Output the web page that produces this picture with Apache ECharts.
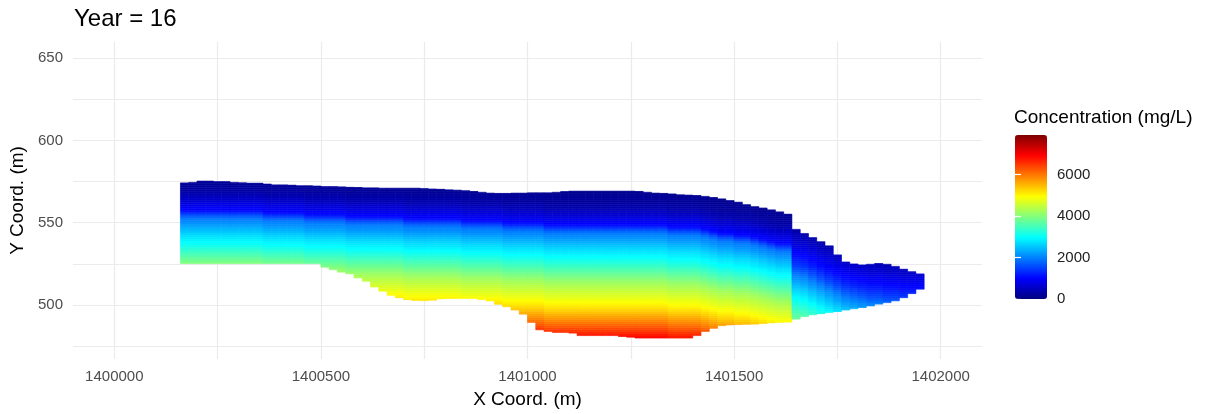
<!DOCTYPE html>
<html>
<head>
<meta charset="utf-8">
<title>Year = 16</title>
<script src="https://cdn.jsdelivr.net/npm/echarts@6/dist/echarts.min.js"></script>
<style>
  html, body { margin: 0; padding: 0; background: #fff; }
  #chart { width: 1220px; height: 414px; }
</style>
</head>
<body>
<div id="chart"></div>
<script>
const _ = null;

// column centres (m) across the plume, each column 20 m wide
const colX = [
  1400170, 1400190, 1400210, 1400230, 1400250, 1400270, 1400290, 1400310, 1400330, 1400350,
  1400370, 1400390, 1400410, 1400430, 1400450, 1400470, 1400490, 1400510, 1400530, 1400550,
  1400570, 1400590, 1400610, 1400630, 1400650, 1400670, 1400690, 1400710, 1400730, 1400750,
  1400770, 1400790, 1400810, 1400830, 1400850, 1400870, 1400890, 1400910, 1400930, 1400950,
  1400970, 1400990, 1401010, 1401030, 1401050, 1401070, 1401090, 1401110, 1401130, 1401150,
  1401170, 1401190, 1401210, 1401230, 1401250, 1401270, 1401290, 1401310, 1401330, 1401350,
  1401370, 1401390, 1401410, 1401430, 1401450, 1401470, 1401490, 1401510, 1401530, 1401550,
  1401570, 1401590, 1401610, 1401630, 1401650, 1401670, 1401690, 1401710, 1401730, 1401750,
  1401770, 1401790, 1401810, 1401830, 1401850, 1401870, 1401890, 1401910, 1401930, 1401950
];
// top and bottom of the plume in each column (m)
const colTop = [
  574.2, 574.5, 575.3, 575.3, 575.0, 575.0, 574.5, 574.3, 574.0, 574.0,
  573.5, 573.0, 573.0, 572.8, 572.5, 572.5, 572.3, 572.0, 572.0, 571.8,
  571.5, 571.3, 571.2, 571.2, 571.0, 571.0, 571.0, 571.0, 571.0, 570.8,
  570.5, 570.3, 570.0, 569.8, 569.5, 569.0, 568.5, 568.0, 567.8, 567.8,
  568.0, 568.0, 568.2, 568.2, 568.2, 568.5, 568.8, 569.2, 569.2, 569.2,
  569.2, 569.2, 569.2, 569.2, 569.2, 569.0, 568.5, 568.0, 567.8, 567.5,
  567.0, 566.8, 566.5, 566.0, 565.3, 564.5, 563.5, 562.5, 561.0, 559.8,
  558.8, 557.8, 556.6, 555.2, 546.0, 543.5, 541.0, 538.5, 536.0, 530.5,
  526.2, 525.0, 524.4, 524.8, 525.2, 524.8, 523.5, 521.8, 520.2, 518.8
];
const colBottom = [
  525.2, 525.2, 525.2, 525.2, 525.2, 525.2, 525.2, 525.2, 525.2, 525.2,
  525.2, 525.2, 525.2, 525.2, 525.2, 525.2, 525.2, 523.0, 521.5, 520.0,
  519.0, 516.5, 514.5, 511.0, 508.5, 506.0, 504.5, 503.3, 502.8, 502.7,
  503.0, 503.8, 504.0, 504.0, 504.0, 504.0, 503.5, 502.5, 500.5, 499.0,
  497.0, 494.5, 489.5, 485.0, 484.0, 483.5, 483.5, 483.0, 481.5, 481.5,
  481.5, 481.5, 481.5, 481.0, 480.5, 480.0, 480.0, 480.0, 480.0, 480.0,
  480.0, 480.0, 481.5, 484.0, 486.0, 487.5, 488.0, 488.2, 488.4, 488.5,
  488.8, 489.2, 489.5, 489.7, 491.5, 493.0, 494.1, 494.8, 495.5, 496.2,
  497.0, 497.8, 498.6, 499.5, 500.6, 501.5, 502.6, 504.5, 507.0, 509.7
];
// vertical displacement of the concentration layers in each column (m),
// measured against the reference profile of the same side of the step
const colOffset = [
  -8.75, -8.75, -8.75, -8.75, -8.75, -8.75, -8.75, -8.75, -8.75, -8.75,
  -7.5, -7.5, -7.5, -7.5, -7.5, -6.25, -6.25, -6.25, -6.25, -6.25,
  -5, -5, -5, -5, -5, -5, -5, -3.75, -3.75, -3.75,
  -3.75, -3.75, -3.75, -3.75, -2.5, -2.5, -2.5, -2.5, -2.5, -1.25,
  -1.25, -1.25, -1.25, -1.25, 0, 0, 0, 0, 0, 0,
  0, 0, 0, 0, 0, 0, 0, 0, 0, 1.25,
  1.25, 1.25, 1.25, 2.5, 3.75, 5, 5, 6.25, 6.25, 7.5,
  8.75, 10, 11.25, 11.25, 0, 1.25, 3.75, 6.25, 8.75, 11.25,
  13.75, 15, 16.25, 17.5, 17.5, 18.75, 18.75, 20, 20, 20
];
// columns from here eastwards lie past the step and use the east profile
const eastStart = 1401640;

// bottom of each 1.25 m row (m)
const rowBase = [
  477.5, 478.75, 480, 481.25, 482.5, 483.75, 485, 486.25, 487.5, 488.75,
  490, 491.25, 492.5, 493.75, 495, 496.25, 497.5, 498.75, 500, 501.25,
  502.5, 503.75, 505, 506.25, 507.5, 508.75, 510, 511.25, 512.5, 513.75,
  515, 516.25, 517.5, 518.75, 520, 521.25, 522.5, 523.75, 525, 526.25,
  527.5, 528.75, 530, 531.25, 532.5, 533.75, 535, 536.25, 537.5, 538.75,
  540, 541.25, 542.5, 543.75, 545, 546.25, 547.5, 548.75, 550, 551.25,
  552.5, 553.75, 555, 556.25, 557.5, 558.75, 560, 561.25, 562.5, 563.75,
  565, 566.25, 567.5, 568.75, 570, 571.25, 572.5, 573.75, 575, 576.25
];

// concentration (mg/L) per row, read at x = 1401250 (west of the step)
const profMain = [
  7050, 6950, 6850, 6740, 6610, 6490, 6360, 6240, 6110, 5990,
  5860, 5750, 5650, 5540, 5410, 5300, 5200, 5100, 5000, 4910,
  4840, 4760, 4690, 4610, 4540, 4460, 4390, 4310, 4240, 4150,
  4050, 3950, 3850, 3750, 3650, 3550, 3450, 3350, 3250, 3150,
  3050, 2960, 2890, 2810, 2740, 2650, 2550, 2450, 2350, 2250,
  2150, 2060, 2000, 1850, 1650, 1400, 1150, 1000, 900, 820,
  740, 660, 580, 500, 420, 360, 310, 270, 240, 210,
  190, 170, 150, 140, 130, 120, 110, 100, 100, 100
];
// concentration (mg/L) per row, read at x = 1401650 (east of the step)
const profEast = [
  _, _, _, _, _, _, _, _, _, 3900,
  3850, 3780, 3700, 3620, 3540, 3460, 3370, 3290, 3210, 3130,
  3050, 2970, 2890, 2800, 2710, 2620, 2540, 2450, 2350, 2250,
  2170, 2080, 1990, 1880, 1760, 1640, 1540, 1450, 1350, 1260,
  1190, 1110, 1040, 970, 910, 850, 780, 720, 650, 590,
  530, 480, 420, 380, 340, 300, 270, 240, 220, _,
  _, _, _, _, _, _, _, _, _, _,
  _, _, _, _, _, _, _, _, _, _
];

const xLabels = [1400000, 1400500, 1401000, 1401500, 1402000];
const xGrid = [1400000, 1400250, 1400500, 1400750, 1401000, 1401250, 1401500, 1401750, 1402000];
const yLabels = [500, 550, 600, 650];
const yGrid = [475, 500, 525, 550, 575, 600, 625, 650];
const barTicks = [0, 2000, 4000, 6000];

const colW = 20;
const rowH = 1.25;

// one cell per column and row, clipped to the plume outline
const cells = [];
colX.forEach(function (x, c) {
  const prof = x >= eastStart ? profEast : profMain;
  const shift = Math.round(colOffset[c] / rowH);
  rowBase.forEach(function (y, r) {
    const y0 = Math.max(y, colBottom[c]);
    const y1 = Math.min(y + rowH, colTop[c]);
    if (y1 <= y0) return;
    const v = prof[r + shift];
    if (v == null) return;
    cells.push([x - colW / 2, x + colW / 2, y0, y1, v]);
  });
});

const font = 'Liberation Sans, Arial, Helvetica, sans-serif';
const chart = echarts.init(document.getElementById('chart'));

chart.setOption({
  animation: false,
  textStyle: { fontFamily: font },
  title: [
    {
      text: 'Year = 16',
      left: 74, top: 7, padding: 0,
      textStyle: { fontFamily: font, fontSize: 24, fontWeight: 'normal', color: '#000' }
    },
    {
      text: 'Concentration (mg/L)',
      left: 1014, top: 108, padding: 0,
      textStyle: { fontFamily: font, fontSize: 19, fontWeight: 'normal', color: '#000' }
    }
  ],
  grid: [
    { left: 73, right: 238, top: 42, bottom: 54 },
    { left: 1015, top: 135, width: 32, height: 164 }
  ],
  xAxis: [
    {
      type: 'value', gridIndex: 0,
      min: 1399900, max: 1402100,
      name: 'X Coord. (m)', nameLocation: 'middle', nameGap: 31,
      nameTextStyle: { fontFamily: font, fontSize: 19, color: '#000' },
      axisLine: { show: false },
      axisTick: { show: false, customValues: xGrid },
      axisLabel: {
        customValues: xLabels, margin: 10,
        fontFamily: font, fontSize: 15, color: '#4D4D4D',
        formatter: function (v) { return String(v); }
      },
      splitLine: { show: true, lineStyle: { color: '#EBEBEB', width: 1.2 } }
    },
    { type: 'value', gridIndex: 1, min: 0, max: 1, show: false }
  ],
  yAxis: [
    {
      type: 'value', gridIndex: 0,
      min: 467.3, max: 659.7,
      name: 'Y Coord. (m)', nameLocation: 'middle', nameGap: 43,
      nameTextStyle: { fontFamily: font, fontSize: 19, color: '#000' },
      axisLine: { show: false },
      axisTick: { show: false, customValues: yGrid },
      axisLabel: {
        customValues: yLabels, margin: 10,
        fontFamily: font, fontSize: 15, color: '#4D4D4D'
      },
      splitLine: { show: true, lineStyle: { color: '#EBEBEB', width: 1.2 } }
    },
    {
      type: 'value', gridIndex: 1, position: 'right', z: 10,
      min: 0, max: 7900,
      axisLine: { show: false },
      axisTick: { show: true, inside: true, length: 6, customValues: barTicks, lineStyle: { color: '#fff', width: 1.2 } },
      axisLabel: {
        customValues: barTicks, margin: 10, fontFamily: font, fontSize: 15, color: '#222',
        formatter: function (v) { return String(v); }
      },
      splitLine: { show: false }
    },
    {
      type: 'value', gridIndex: 1, position: 'left', z: 10,
      min: 0, max: 7900,
      axisLine: { show: false },
      axisTick: { show: true, inside: true, length: 6, customValues: barTicks, lineStyle: { color: '#fff', width: 1.2 } },
      axisLabel: { show: false },
      splitLine: { show: false }
    }
  ],
  visualMap: {
    type: 'continuous',
    min: 0, max: 7900,
    dimension: 4,
    seriesIndex: 0,
    calculable: false,
    hoverLink: false,
    left: 1015, top: 135,
    itemWidth: 32, itemHeight: 164,
    padding: 0,
    text: null,
    inRange: {
      color: ['#00007F', '#0000FF', '#007FFF', '#00FFFF', '#7FFF7F', '#FFFF00', '#FF7F00', '#FF0000', '#7F0000']
    }
  },
  series: [
    {
      type: 'custom',
      xAxisIndex: 0, yAxisIndex: 0,
      silent: true,
      progressive: 0,
      data: cells,
      encode: { x: [0, 1], y: [2, 3] },
      renderItem: function (params, api) {
        const p0 = api.coord([api.value(0), api.value(3)]);
        const p1 = api.coord([api.value(1), api.value(2)]);
        const color = api.visual('color');
        return {
          type: 'rect',
          shape: { x: p0[0], y: p0[1], width: p1[0] - p0[0], height: p1[1] - p0[1] },
          style: { fill: color, stroke: color, lineWidth: 0.6 }
        };
      }
    }
  ]
});
</script>
</body>
</html>
